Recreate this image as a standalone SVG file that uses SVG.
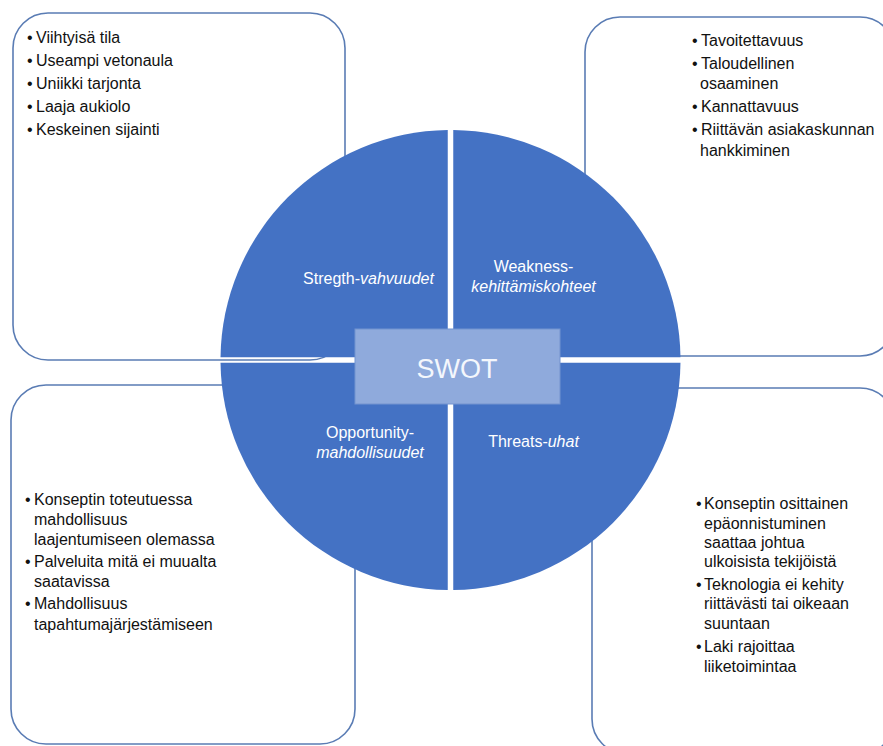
<svg xmlns="http://www.w3.org/2000/svg" width="883" height="746" viewBox="0 0 883 746">
  <style>
    .box { fill: #ffffff; stroke: #5a7cb4; stroke-width: 1.6; }
    .quad { fill: #4472c4; }
    .core { fill: #8faadc; stroke: #7393cf; stroke-width: 1; }
    .item { font-family: "Liberation Sans", Arial, sans-serif; font-size: 16px; fill: #111111; }
    .lbl { font-family: "Liberation Sans", Arial, sans-serif; font-size: 16px; fill: #ffffff; text-anchor: middle; }
    .it { font-style: italic; }
    .title { font-family: "Liberation Sans", Arial, sans-serif; font-size: 27px; fill: #f4f7fc; text-anchor: middle; }
  </style>

  <!-- corner boxes holding the lists -->
  <g id="box-strengths">
    <rect class="box" x="13" y="13" width="332" height="347" rx="35" ry="35"/>
    <text class="item">
      <tspan x="27" y="43">•</tspan><tspan x="36" y="43">Viihtyisä tila</tspan>
      <tspan x="27" y="66">•</tspan><tspan x="36" y="66">Useampi vetonaula</tspan>
      <tspan x="27" y="89">•</tspan><tspan x="36" y="89">Uniikki tarjonta</tspan>
      <tspan x="27" y="112">•</tspan><tspan x="36" y="112">Laaja aukiolo</tspan>
      <tspan x="27" y="135">•</tspan><tspan x="36" y="135">Keskeinen sijainti</tspan>
    </text>
  </g>

  <g id="box-weaknesses">
    <rect class="box" x="585" y="17" width="310" height="339" rx="35" ry="35"/>
    <text class="item">
      <tspan x="692" y="46">•</tspan><tspan x="701" y="46">Tavoitettavuus</tspan>
      <tspan x="692" y="69">•</tspan><tspan x="701" y="69">Taloudellinen</tspan>
      <tspan x="700" y="89">osaaminen</tspan>
      <tspan x="692" y="112">•</tspan><tspan x="701" y="112">Kannattavuus</tspan>
      <tspan x="692" y="135">•</tspan><tspan x="701" y="135">Riittävän asiakaskunnan</tspan>
      <tspan x="700" y="156">hankkiminen</tspan>
    </text>
  </g>

  <g id="box-opportunities">
    <rect class="box" x="11" y="385" width="344" height="359" rx="35" ry="35"/>
    <text class="item">
      <tspan x="25" y="505">•</tspan><tspan x="34" y="505">Konseptin toteutuessa</tspan>
      <tspan x="34" y="525">mahdollisuus</tspan>
      <tspan x="34" y="545">laajentumiseen olemassa</tspan>
      <tspan x="25" y="567">•</tspan><tspan x="34" y="567">Palveluita mitä ei muualta</tspan>
      <tspan x="34" y="587">saatavissa</tspan>
      <tspan x="25" y="609">•</tspan><tspan x="34" y="609">Mahdollisuus</tspan>
      <tspan x="34" y="630">tapahtumajärjestämiseen</tspan>
    </text>
  </g>

  <g id="box-threats">
    <rect class="box" x="592" y="388" width="303" height="366" rx="35" ry="35"/>
    <text class="item">
      <tspan x="696" y="509">•</tspan><tspan x="704" y="509">Konseptin osittainen</tspan>
      <tspan x="704" y="529">epäonnistuminen</tspan>
      <tspan x="704" y="548">saattaa johtua</tspan>
      <tspan x="704" y="567">ulkoisista tekijöistä</tspan>
      <tspan x="696" y="590">•</tspan><tspan x="704" y="590">Teknologia ei kehity</tspan>
      <tspan x="704" y="609">riittävästi tai oikeaan</tspan>
      <tspan x="704" y="629">suuntaan</tspan>
      <tspan x="696" y="652">•</tspan><tspan x="704" y="652">Laki rajoittaa</tspan>
      <tspan x="704" y="672">liiketoimintaa</tspan>
    </text>
  </g>

  <!-- circle split into four quadrants with open gaps -->
  <g id="quad-strength">
    <path class="quad" d="M447.75,357.25 V130.02 A230,230 0 0 0 220.52,357.25 Z"/>
    <text class="lbl" x="368.5" y="284">Stregth-<tspan class="it">vahvuudet</tspan></text>
  </g>
  <g id="quad-weakness">
    <path class="quad" d="M453.25,357.25 V130.02 A230,230 0 0 1 680.48,357.25 Z"/>
    <text class="lbl" x="533.5" y="272">Weakness-</text>
    <text class="lbl it" x="533.5" y="292">kehittämiskohteet</text>
  </g>
  <g id="quad-opportunity">
    <path class="quad" d="M447.75,362.75 V589.98 A230,230 0 0 1 220.52,362.75 Z"/>
    <text class="lbl" x="370" y="438">Opportunity-</text>
    <text class="lbl it" x="370" y="458">mahdollisuudet</text>
  </g>
  <g id="quad-threat">
    <path class="quad" d="M453.25,362.75 V589.98 A230,230 0 0 0 680.48,362.75 Z"/>
    <text class="lbl" x="533.5" y="447">Threats-<tspan class="it">uhat</tspan></text>
  </g>

  <!-- centre label -->
  <g id="swot-core">
    <rect class="core" x="355" y="329" width="205" height="75"/>
    <text class="title" x="457" y="378">SWOT</text>
  </g>
</svg>
